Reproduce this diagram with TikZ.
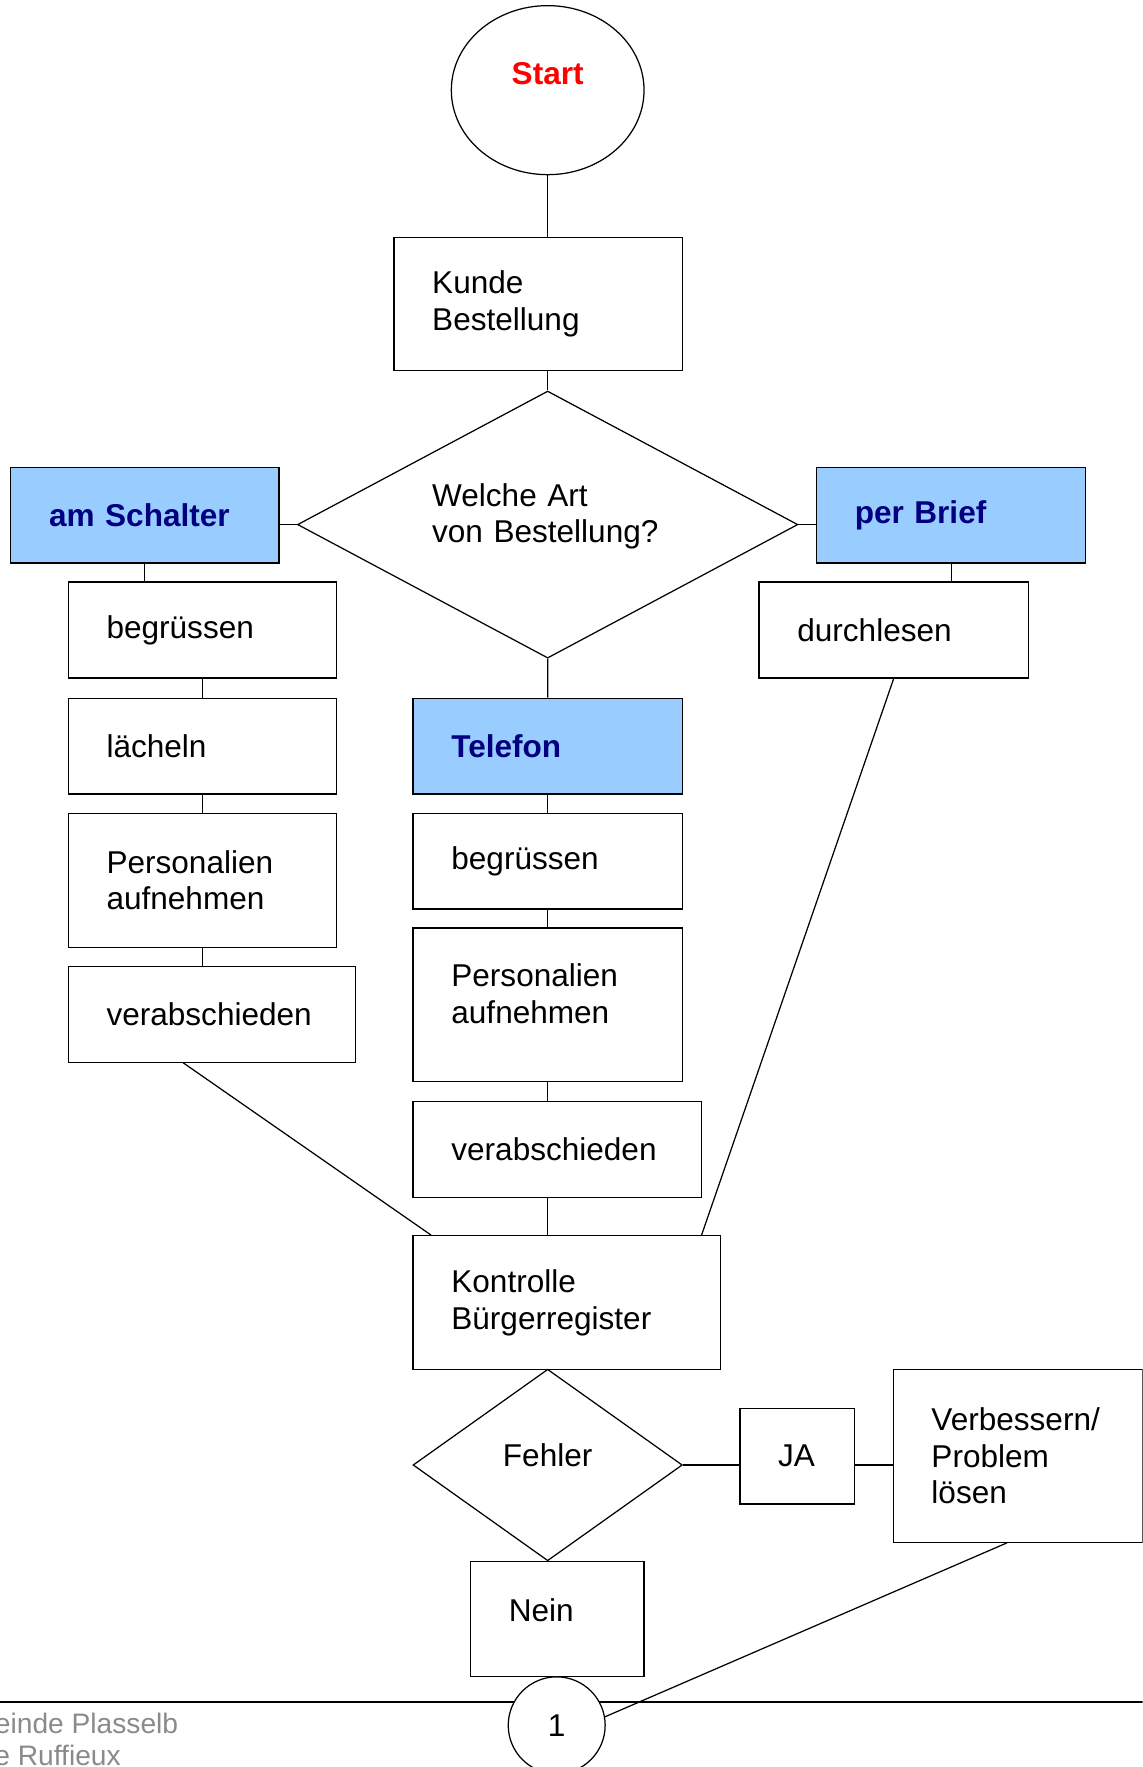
\documentclass[tikz,border=0pt]{standalone}
\usepackage{fontspec}
\setmainfont{Liberation Sans}
\usetikzlibrary{shapes.geometric,positioning}
\definecolor{hellblau}{HTML}{99CCFF}
\definecolor{dunkelblau}{HTML}{000080}
\definecolor{fussgrau}{HTML}{8A8A8A}
\newcommand{\boxfont}{\fontsize{28}{32.5}\selectfont}
\newcommand{\fussfont}{\fontsize{25}{28.7}\selectfont}

\begin{document}
\begin{tikzpicture}[x=1pt,y=-1pt,line width=1.1pt,
      % define styles
      box/.style={
           draw,
           anchor=north west,
           align=left,
           inner xsep=34pt,
           inner ysep=0pt,
           font=\boxfont
      },
      weg/.style={
           box,
           fill=hellblau,
           text=dunkelblau,
           font=\boxfont\bfseries
      },
      raute/.style={
           draw,
           diamond,
           inner sep=0pt,
           font=\boxfont
      },
      rund/.style={
           draw,
           ellipse,
           inner sep=0pt,
           fill=white
      }
  ]
  \useasboundingbox (0,0) rectangle (1014,1568);
  \clip (0,0) rectangle (1014,1568);
  % Start and the order
  \node[rund,minimum width=171pt,minimum height=150pt,text depth=30pt,
        text=red,font=\boxfont\bfseries] (start) at (486,80) {Start};
  \node[box,text width=188pt,minimum height=118pt] (kunde) at (349,210) {Kunde\\Bestellung};
  \node[raute,aspect=1.87,minimum width=444pt,minimum height=237pt,
        text width=205pt,align=left,text depth=53pt] (frage) at (486,465.5) {Welche Art\\von Bestellung?};
  % Left column: am Schalter
  \node[weg,text width=170pt,minimum height=85pt] (schalter) at (9,414) {am Schalter};
  \node[box,text width=170pt,minimum height=85pt] (begr1) at (60,516) {begrüssen};
  \node[box,text width=170pt,minimum height=85pt] (laecheln) at (60,619) {lächeln};
  \node[box,text width=170pt,minimum height=119pt] (pers1) at (60,721) {Personalien\\aufnehmen};
  \node[box,text width=187pt,minimum height=85pt] (verab1) at (60,857) {verabschieden};
  % Middle column: Telefon
  \node[weg,text width=171pt,minimum height=85pt] (telefon) at (366,619) {Telefon};
  \node[box,text width=171pt,minimum height=85pt] (begr2) at (366,721) {begrüssen};
  \node[box,text width=171pt,minimum height=136pt,text depth=52.5pt] (pers2) at (366,823) {Personalien\\aufnehmen};
  \node[box,text width=188pt,minimum height=85pt] (verab2) at (366,977) {verabschieden};
  % Right column: per Brief
  \node[weg,text width=171pt,minimum height=85pt] (brief) at (724,414) {per Brief};
  \node[box,text width=171pt,minimum height=85pt] (durch) at (673,516) {durchlesen};
  % Control and error check
  \node[box,text width=205pt,minimum height=119pt] (kontrolle) at (366,1096) {Kontrolle\\Bürgerregister};
  \node[raute,aspect=1.4,minimum width=239pt,minimum height=170pt,text depth=18pt] (fehler) at (486,1300) {Fehler};
  \node[box,text width=34pt,minimum height=85pt] (ja) at (656,1249) {JA};
  \node[box,text width=153pt,minimum height=153pt] (verb) at (792,1215) {Verbessern/\\Problem\\lösen};
  \node[box,text width=86pt,minimum height=102pt,text depth=16pt] (nein) at (417,1385) {Nein};
  % Lines down the middle
  \draw (start.south) -- (start.south |- kunde.north);
  \draw (frage.north |- kunde.south) -- (frage.north);
  \draw (frage.west) -- (frage.west -| schalter.east);
  \draw (frage.east) -- (frage.east -| brief.west);
  \draw (frage.south) -- (telefon.north);
  % left column
  \draw (schalter.south) -- (schalter.south |- begr1.north);
  \draw (begr1.south) -- (laecheln.north);
  \draw (laecheln.south) -- (pers1.north);
  \draw (pers1.south) -- (pers1.south |- verab1.north);
  % middle column
  \draw (telefon.south) -- (begr2.north);
  \draw (begr2.south) -- (pers2.north);
  \draw (pers2.south) -- (pers2.south |- verab2.north);
  \draw (pers2.south |- verab2.south) -- (pers2.south |- kontrolle.north);
  % right column
  \draw (brief.south) -- (brief.south |- durch.north);
  % the three ways meet at the control
  \draw ([xshift=-25.5pt]verab1.south) -- ([xshift=-120.5pt]kontrolle.north);
  \draw (durch.south) -- ([xshift=119.5pt]kontrolle.north);
  % error branch
  \draw (fehler.east) -- (fehler.east -| ja.west);
  \draw (fehler.east -| ja.east) -- (fehler.east -| verb.west);
  % footer rule and page number
  \draw[line width=1.5pt] (0,1510) -- (1014,1510);
  \node[rund,minimum size=86pt,font=\boxfont] (eins) at (494,1531) {1};
  \draw ([xshift=-9.5pt]verb.south) -- (eins.10);
  \node[anchor=base east,text=fussgrau,font=\fussfont] (fuss1) at (162,1538) {einde Plasselb};
  \node[anchor=base east,text=fussgrau,font=\fussfont] (fuss2) at (111,1567) {e Ruffieux};
\end{tikzpicture}
\end{document}
